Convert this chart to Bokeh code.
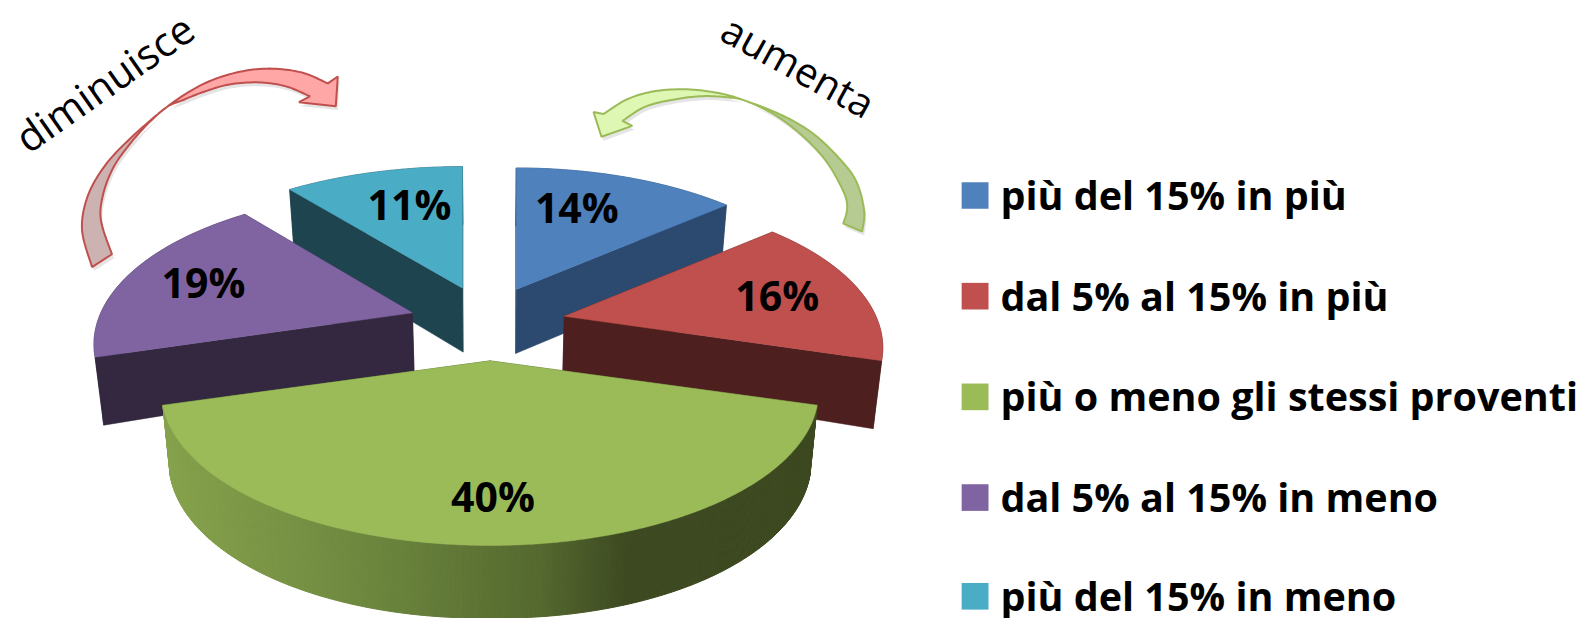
import math
from bokeh.plotting import figure
from bokeh.models import Range1d
from bokeh.core.properties import value
from bokeh.embed import file_html
from bokeh.resources import INLINE

# ---- data ----
categories = ["più del 15% in più", "dal 5% al 15% in più", "più o meno gli stessi proventi",
              "dal 5% al 15% in meno", "più del 15% in meno"]
shares = [14, 16, 40, 19, 11]
pct_labels = ["14%", "16%", "40%", "19%", "11%"]
top_colors = ["#4F81BD", "#C0504D", "#9BBB59", "#8064A2", "#4BACC6"]
side_colors = ["#2C4A6F", "#4D1F1F", "#3F4A20", "#332840", "#1E444F"]
arrow_words = ["diminuisce", "aumenta"]

# ---- projection of the 3D exploded pie, in reference pixels ----
CX, CY = 492, 327
EXPL_A, EXPL_B = 76, 38
RIM_A, RIM_B, RIM_SHIFT = 330, 155, 32
PERSP_K = 0.79
TIP_DX = [-6, 0, 0, -5, -2]
RIM_SCALE = [0.98, 0.97, 1.0, 0.97, 1.0]
DEPTH_EXTRA = [4, 0, 0, 0, 4]
LABEL_DX = [-20, 0, 3, -5, 12]
LABEL_F = 0.73


def rim(theta, scale=1.0):
    h = math.radians(theta) / 2
    t = 2 * math.atan2(PERSP_K * math.sin(h), math.cos(h))
    return RIM_A * scale * math.sin(t), RIM_SHIFT - RIM_B * math.cos(t)


def drop(x, y, extra):
    d = 61 + 0.05 * (y - 300) + 0.012 * abs(x - CX) + extra
    return CX + (x - CX) * 0.978, y + d


def hex2rgb(c):
    return tuple(int(c[i:i + 2], 16) for i in (1, 3, 5))


wall_x = [165, 350, 540, 630, 820]
wall_c = ["#86A24C", "#6F8A3F", "#55692F", "#3D4920", "#3D4920"]


def wall_color(x):
    for i in range(len(wall_x) - 1):
        if x <= wall_x[i + 1]:
            f = max(0, (x - wall_x[i]) / (wall_x[i + 1] - wall_x[i]))
            a, b = hex2rgb(wall_c[i]), hex2rgb(wall_c[i + 1])
            return "#%02x%02x%02x" % tuple(round(a[k] + (b[k] - a[k]) * f) for k in range(3))
    return wall_c[-1]


def smooth(pts, n=10):
    """Catmull-Rom through anchor points."""
    out = []
    m = len(pts)
    for i in range(m - 1):
        p0 = pts[max(i - 1, 0)]
        p1, p2 = pts[i], pts[i + 1]
        p3 = pts[min(i + 2, m - 1)]
        for j in range(n):
            s = j / n
            out.append(tuple(0.5 * ((2 * p1[k]) + (-p0[k] + p2[k]) * s +
                                    (2 * p0[k] - 5 * p1[k] + 4 * p2[k] - p3[k]) * s * s +
                                    (-p0[k] + 3 * p1[k] - 3 * p2[k] + p3[k]) * s ** 3) for k in (0, 1)))
    out.append(pts[-1])
    return out


# the plot box stays inside the 1591x626 window, the ranges keep the reference's frame
p = figure(width=1583, height=618, x_range=Range1d(0, 1591), y_range=Range1d(626, 0),
           toolbar_location=None, output_backend="svg", min_border=0,
           background_fill_color="white", border_fill_color="white", outline_line_color=None)
p.axis.visible = False
p.grid.visible = False

# ---- arrows ----
red_outer = [(92, 270), (82, 233), (87, 200), (103, 170), (127, 143), (167, 108), (203, 85), (237, 73), (270, 69), (303, 73), (329, 84)]
red_twist = 5
red_head = [(339, 77), (337, 107), (300, 103)]
red_inner = [(311, 97), (287, 87), (260, 83), (230, 85), (203, 93), (183, 101), (167, 108), (147, 126), (128, 148), (113, 170), (103, 197), (101, 223), (112, 257)]
red_twist_in = 6

green_outer = [(866, 234), (868, 213), (860, 183), (843, 160), (817, 135), (787, 117), (750, 102), (723, 94), (690, 90), (657, 92), (630, 100), (606, 115)]
green_twist = 6
green_head = [(596, 113), (604, 138), (635, 127)]
green_inner = [(625, 122), (647, 108), (673, 101), (703, 97), (730, 98), (750, 102), (780, 117), (807, 138), (830, 163), (847, 193), (851, 210), (847, 226)]
green_twist_in = 5

arrows = [
    (red_outer, red_twist, red_head, red_inner, red_twist_in, "#CDB2B2", "#FFA6A6", "#C0504D"),
    (green_outer, green_twist, green_head, green_inner, green_twist_in, "#B5CB91", "#DEF7B2", "#9BBB59"),
]
for outer, t_o, head, inner, t_i, c_tail, c_head, c_line in arrows:
    N = 10
    so = smooth(outer, N)
    si = smooth(inner, N)
    tail = so[:t_o * N + 1] + si[t_i * N:]
    band = so[t_o * N:] + head + si[:t_i * N + 1]
    for poly in (tail, band):
        p.patch([q[0] + 2 for q in poly], [q[1] + 4 for q in poly], fill_color="#888888", fill_alpha=0.22,
                line_color=None)
    for poly, col in ((tail, c_tail), (band, c_head)):
        p.patch([q[0] for q in poly], [q[1] for q in poly], fill_color=col, line_color=c_line, line_width=2)

# ---- pie slices, from shares ----
starts, acc = [], 0
for s in shares:
    starts.append(acc)
    acc += s
order = [0, 4, 3, 1, 2]  # back to front
for i in order:
    a0 = starts[i] * 3.6
    a1 = (starts[i] + shares[i]) * 3.6
    mid = (a0 + a1) / 2
    tx = CX + EXPL_A * math.sin(math.radians(mid)) + TIP_DX[i]
    ty = CY - EXPL_B * math.cos(math.radians(mid))
    n = 320 if i == 2 else 60
    arc = []
    for j in range(n + 1):
        rx, ry = rim(a0 + (a1 - a0) * j / n, RIM_SCALE[i])
        arc.append((tx + rx, ty + ry))
    e = DEPTH_EXTRA[i]
    tb = drop(tx, ty, e)
    arc_b = [drop(x, y, e) for x, y in arc]
    # cut faces
    for q, qb in ((arc[0], arc_b[0]), (arc[-1], arc_b[-1])):
        p.patch([tx, q[0], qb[0], tb[0]], [ty, q[1], qb[1], tb[1]],
                fill_color=side_colors[i], line_color=side_colors[i], line_width=0.5)
    # outer wall
    if i == 2:
        for j in range(n):
            c = wall_color((arc[j][0] + arc[j + 1][0]) / 2)
            p.patch([arc[j][0], arc[j + 1][0], arc_b[j + 1][0], arc_b[j][0]],
                    [arc[j][1], arc[j + 1][1], arc_b[j + 1][1], arc_b[j][1]],
                    fill_color=c, line_color=c, line_width=1)
    else:
        wall = arc + arc_b[::-1]
        p.patch([q[0] for q in wall], [q[1] for q in wall], fill_color=side_colors[i],
                line_color=side_colors[i], line_width=0.5)
    # top face
    top = [(tx, ty)] + arc
    p.patch([q[0] for q in top], [q[1] for q in top], fill_color=top_colors[i],
            line_color=top_colors[i], line_width=0.5)

# percent labels
lx, ly = [], []
for i in range(len(shares)):
    mid = (starts[i] + shares[i] / 2) * 3.6
    tx = CX + EXPL_A * math.sin(math.radians(mid)) + TIP_DX[i]
    ty = CY - EXPL_B * math.cos(math.radians(mid))
    rx, ry = rim(mid, RIM_SCALE[i])
    lx.append(tx + LABEL_F * rx + LABEL_DX[i])
    ly.append(ty + LABEL_F * ry)
p.text(lx, ly, text=pct_labels, text_font=value("Open Sans"), text_font_style="bold",
       text_font_size="41px", text_color="black", text_align="center", text_baseline="middle")

# arrow words
p.text([104], [83], text=[arrow_words[0]], angle=[math.radians(35)], text_font=value("Open Sans"),
       text_font_size="41px", text_color="black", text_align="center", text_baseline="middle")
p.text([802], [66], text=[arrow_words[1]], angle=[math.radians(-29)], text_font=value("Open Sans"),
       text_font_size="40px", text_color="black", text_align="center", text_baseline="middle")

# ---- legend ----
leg_top = [184, 286, 388, 490, 590]
p.quad(left=[966] * 5, right=[993] * 5, top=leg_top, bottom=[t + 27 for t in leg_top],
       fill_color=top_colors, line_color=None)
p.text([1005] * 5, [t + 13 for t in leg_top], text=categories, text_font=value("Open Sans"),
       text_font_style="bold", text_font_size="39.5px", text_color="black", text_align="left",
       text_baseline="middle")

open("out.html", "w").write(file_html(p, INLINE))
